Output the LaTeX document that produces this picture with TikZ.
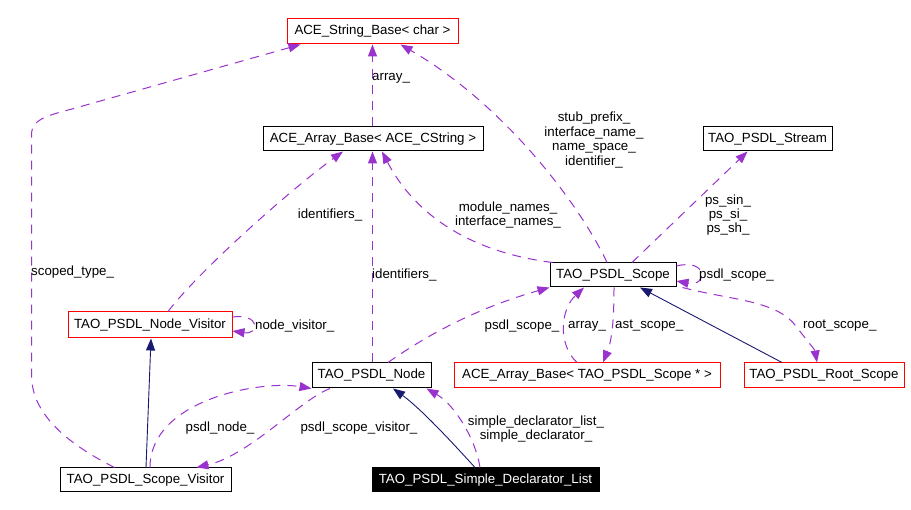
\documentclass[tikz,border=0pt]{standalone}
\usepackage{fontspec}
\setmainfont{Liberation Sans}
\usetikzlibrary{arrows.meta}
\definecolor{usecol}{HTML}{9A32CD}
\definecolor{inhcol}{HTML}{191970}
\begin{document}
\begin{tikzpicture}[x=1pt,y=-1pt,
  font=\fontsize{13.3}{14.4}\selectfont,
  box/.style={draw=black,line width=1pt,rectangle,inner sep=0pt,minimum height=24pt,fill=white,text=black},
  redbox/.style={box,draw=red},
  blackbox/.style={box,fill=black,text=white},
  use/.style={draw=usecol,line width=1pt,dash pattern=on 9pt off 7pt,-{Triangle[length=12pt,width=9pt,fill=usecol]}},
  inh/.style={draw=inhcol,line width=0.9pt,-{Triangle[length=12pt,width=9pt,fill=inhcol]}},
  lbl/.style={inner sep=0pt,align=center,text=black}]
\useasboundingbox (0,0) rectangle (911,510);
\fill[white] (0,0) rectangle (911,510);

% nodes
\node[redbox,minimum width=171pt,minimum height=25pt] (strbase) at (372.5,31.5) {ACE\_String\_Base< char >};
\node[box,minimum width=220pt] (cstr) at (373,139) {ACE\_Array\_Base< ACE\_CString >};
\node[box,minimum width=129pt] (stream) at (767.5,139) {TAO\_PSDL\_Stream};
\node[box,minimum width=126pt] (scope) at (613,275) {TAO\_PSDL\_Scope};
\node[redbox,minimum width=164pt,minimum height=26pt] (nodevis) at (150,325) {TAO\_PSDL\_Node\_Visitor};
\node[box,minimum width=119pt,minimum height=25pt] (node) at (371.5,375.5) {TAO\_PSDL\_Node};
\node[redbox,minimum width=266pt,minimum height=25pt] (arrscope) at (587,375.5) {ACE\_Array\_Base< TAO\_PSDL\_Scope * >};
\node[redbox,minimum width=160pt,minimum height=25pt] (root) at (824,375.5) {TAO\_PSDL\_Root\_Scope};
\node[box,minimum width=171pt] (scopevis) at (145.5,480) {TAO\_PSDL\_Scope\_Visitor};
\node[blackbox,minimum width=227pt] (sdl) at (485.5,480) {TAO\_PSDL\_Simple\_Declarator\_List};

% scoped_type_
\draw[use] ([xshift=-31pt]scopevis.north) .. controls (60,440) and (31.5,410) .. (31.5,375) -- (31.5,135)
  .. controls (31.5,120) and (45,116) .. (72,109) -- ([xshift=-72pt]strbase.south);
\node[lbl,anchor=west] (lscoped) at (31,272) {scoped\_type\_};

% array_ (cstring -> string base)
\draw[use] ([xshift=-0.5pt]cstr.north) -- ([xshift=-0.5pt]cstr.north |- strbase.south);
\node[lbl,anchor=west] (larray1) at (372,78) {array\_};

% stub_prefix_ etc
\draw[use] ([xshift=-6pt]scope.north) .. controls (580,205) and (505,105) .. ([xshift=28pt]strbase.south);
\node[lbl] (lstub) at (594,140) {stub\_prefix\_\\interface\_name\_\\name\_space\_\\identifier\_};

% module_names_
\draw[use] ([xshift=3pt]scope.north west) .. controls (470,252) and (415,215) .. ([xshift=9pt]cstr.south);
\node[lbl] (lmodule) at (508,215) {module\_names\_\\interface\_names\_};

% ps_sin_
\draw[use] ([xshift=19pt]scope.north) -- ([xshift=-20pt]stream.south);
\node[lbl] (lps) at (728,215) {ps\_sin\_\\ps\_si\_\\ps\_sh\_};

% self loop psdl_scope_
\draw[use] ([yshift=9pt]scope.east) .. controls (708,258) and (708,287) .. ([yshift=-6pt]scope.east);
\node[lbl,anchor=west] (lselfscope) at (699,275) {psdl\_scope\_};

% root_scope_
\draw[use] ([xshift=6pt]scope.south east) .. controls (730,300) and (775,300) .. (795,325)
  .. controls (805,338) and (815,350) .. ([xshift=-7pt]root.north);
\node[lbl,anchor=west] (lroot) at (803,326) {root\_scope\_};

% inheritance root -> scope
\draw[inh] ([xshift=-42pt]root.north) -- ([xshift=27pt]scope.south);

% array_ (arrscope -> scope)
\draw[use] ([xshift=-10pt]arrscope.north) .. controls (558,345) and (560,310) .. ([xshift=-29pt]scope.south);
\node[lbl,anchor=west] (larray2) at (568,326) {array\_};

% ast_scope_
\draw[use] ([xshift=1pt]scope.south) .. controls (614,320) and (612,340) .. ([xshift=16pt]arrscope.north);
\node[lbl,anchor=west] (last) at (615,326) {ast\_scope\_};

% psdl_scope_ node -> scope
\draw[use] ([xshift=16.5pt]node.north) .. controls (420,340) and (470,310) .. (scope.south west);
\node[lbl] (lpsdlscope) at (522,326) {psdl\_scope\_};

% identifiers_ node -> cstr
\draw[use] ([xshift=1pt]node.north) -- ([xshift=1pt]node.north |- cstr.south);
\node[lbl,anchor=west] (lident2) at (372,275) {identifiers\_};

% identifiers_ nodevis -> cstr
\draw[use] ([xshift=18pt]nodevis.north) .. controls (200,270) and (290,190) .. ([xshift=-30pt]cstr.south);
\node[lbl] (lident1) at (330,215) {identifiers\_};

% self loop node_visitor_
\draw[use] ([yshift=8pt]nodevis.east) .. controls (260,313) and (260,335) .. ([yshift=-6pt]nodevis.east);
\node[lbl,anchor=west] (lnodevis) at (255,326) {node\_visitor\_};

% inheritance scopevis -> nodevis
\draw[inh] ([xshift=0.5pt]scopevis.north) -- ([xshift=1pt]nodevis.south);

% psdl_node_
\draw[use] ([xshift=4.5pt]scopevis.north) .. controls (150,400) and (260,380) .. (node.south west);
\node[lbl] (lpsdlnode) at (220,428) {psdl\_node\_};

% psdl_scope_visitor_
\draw[use] ([xshift=-41.5pt]node.south) .. controls (300,400) and (250,455) .. ([xshift=51pt]scopevis.north);
\node[lbl] (lpsv) at (359,428) {psdl\_scope\_visitor\_};

% inheritance sdl -> node
\draw[inh] ([xshift=-10.5pt]sdl.north) .. controls (450,440) and (420,408) .. ([xshift=21.5pt]node.south);

% simple_declarator_list_
\draw[use] ([xshift=-5.5pt]sdl.north) .. controls (476,440) and (455,405) .. ([xshift=55pt]node.south);
\node[lbl] (lsdl) at (536,429) {simple\_declarator\_list\_\\simple\_declarator\_};
\end{tikzpicture}
\end{document}
